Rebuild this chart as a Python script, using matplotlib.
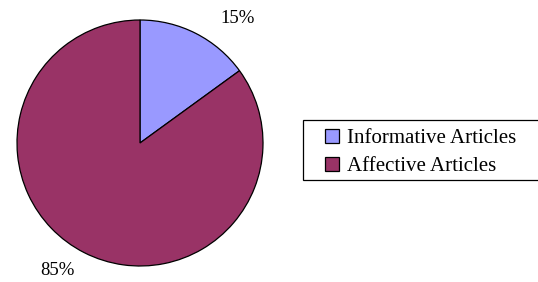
import matplotlib.pyplot as plt
from matplotlib.patches import Patch, Rectangle

# Datos del gráfico
labels = ['Informative Articles', 'Affective Articles']
values = [15, 85]
colors = ['#9999FF', '#993366']
pct_labels = ['15%', '85%']

plt.rcParams['font.family'] = ['Liberation Serif', 'DejaVu Serif']

W, H = 538, 282
fig = plt.figure(figsize=(W / 100, H / 100), dpi=100)

# Eje del pastel en coordenadas de píxel
cx, cy, r = 140, 143, 123
ax = fig.add_axes([(cx - r) / W, (H - cy - r) / H, 2 * r / W, 2 * r / H])
ax.pie(values, colors=colors, startangle=90, counterclock=False,
       wedgeprops=dict(edgecolor='black', linewidth=0.9))
ax.set_xlim(-1, 1)
ax.set_ylim(-1, 1)
ax.set_aspect('equal')
ax.axis('off')

# Etiquetas de porcentaje (posición relativa al radio)
label_pos = [(0.79, 1.01), (-0.67, -1.04)]
for txt, (x, y) in zip(pct_labels, label_pos):
    ax.text(x, y, txt, ha='center', va='center', fontsize=13.5, clip_on=False)

# Marco de la leyenda (se sale por el borde derecho como en el original)
fig.patches.append(Rectangle((303 / W, 1 - 180 / H), 250 / W, 60 / H,
                             transform=fig.transFigure, facecolor='white',
                             edgecolor='black', linewidth=0.9, zorder=0))

# Leyenda
handles = [Patch(facecolor=c, edgecolor='black', linewidth=0.9) for c in colors]
leg = fig.legend(handles, labels, loc='upper left',
                 bbox_to_anchor=(325 / W, 1 - 129 / H), fontsize=15,
                 frameon=False, borderaxespad=0, borderpad=0,
                 handlelength=0.65, handleheight=0.65, handletextpad=0.4,
                 labelspacing=0.42)

fig.savefig('out.png', dpi=100)
